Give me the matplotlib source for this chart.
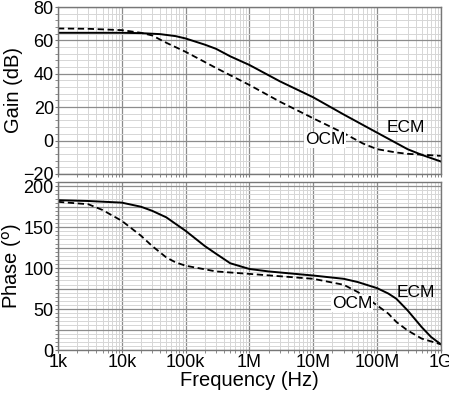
import matplotlib
matplotlib.use("Agg")
import matplotlib.pyplot as plt
from matplotlib.ticker import FixedLocator, MultipleLocator, LogLocator, NullFormatter

plt.rcParams['font.family'] = ['Liberation Sans', 'DejaVu Sans']

# frequency points (Hz)
f_gain_ecm = [1e3, 1e4, 2e4, 4e4, 7e4, 1e5, 2e5, 3e5, 5e5, 1e6, 3e6, 1e7, 3e7, 1e8, 3e8, 5e8, 1e9]
gain_ecm = [64.6, 64.6, 64.4, 63.8, 62.6, 61.2, 57.5, 55.0, 50.5, 45.3, 35.5, 25.9, 15.6, 4.7, -5.2, -8.6, -12.6]

f_gain_ocm = [1e3, 3e3, 1e4, 2e4, 3e4, 5e4, 1e5, 3e5, 1e6, 3e6, 1e7, 3e7, 6e7, 1e8, 2e8, 3e8, 1e9]
gain_ocm = [67.2, 67.0, 66.2, 64.6, 63.0, 58.6, 53.2, 43.5, 33.3, 23.3, 13.3, 4.4, -1.8, -5.2, -7.2, -8.0, -9.2]

f_ph_ecm = [1e3, 3e3, 1e4, 2e4, 3e4, 5e4, 7e4, 1e5, 2e5, 3e5, 5e5, 1e6, 2e6, 1e7, 3e7, 5e7,
            1e8, 1.5e8, 2e8, 3e8, 5e8, 7e8, 1e9]
ph_ecm = [183, 182, 180, 175, 170, 162, 154, 145.6, 127, 117.6, 106, 99, 96, 91, 87, 83,
          75.6, 69, 62.7, 48.5, 28, 16, 7]

f_ph_ocm = [1e3, 3e3, 5e3, 1e4, 2e4, 3e4, 5e4, 7e4, 1e5, 3e5, 1e6, 1e7, 3e7, 5e7,
            1e8, 1.5e8, 2e8, 3e8, 5e8, 1e9]
ph_ocm = [181, 178, 171, 157.8, 139.6, 127, 113, 107, 103, 96, 93, 87, 79.7, 70.8,
          54.6, 44.5, 34.4, 24, 14, 7]

freq_ticks = [1e3, 1e4, 1e5, 1e6, 1e7, 1e8, 1e9]
freq_labels = ['1k', '10k', '100k', '1M', '10M', '100M', '1G']

fig = plt.figure(figsize=(4.49, 3.96), dpi=100)
ax1 = fig.add_axes([0.129, 0.561, 0.853, 0.421])
ax2 = fig.add_axes([0.129, 0.116, 0.853, 0.424])


def style_axes(ax):
    ax.set_xscale('log')
    ax.set_xlim(1e3, 1e9)
    ax.xaxis.set_major_locator(FixedLocator(freq_ticks))
    ax.xaxis.set_minor_locator(LogLocator(base=10, subs=range(2, 10), numticks=20))
    ax.xaxis.set_minor_formatter(NullFormatter())
    ax.grid(which='major', color='#8c8c8c', lw=0.9)
    ax.grid(which='minor', color='#d6d6d6', lw=0.7)
    ax.set_axisbelow(True)
    for s in ax.spines.values():
        s.set_color('#777777')
        s.set_linewidth(1.0)
    ax.tick_params(which='both', length=2, color='#777777', labelsize=13, pad=1)


style_axes(ax1)
ax1.plot(f_gain_ecm, gain_ecm, color='black', lw=1.4)
ax1.plot(f_gain_ocm, gain_ocm, color='black', lw=1.3, ls=(0, (3.5, 2)))
ax1.set_ylim(-20, 80)
ax1.yaxis.set_major_locator(MultipleLocator(20))
ax1.yaxis.set_minor_locator(MultipleLocator(4))
ax1.set_xticklabels([])
ax1.set_ylabel('Gain (dB)', fontsize=14.5, labelpad=0)
ax1.text(1.4e8, 7.5, 'ECM', fontsize=12.5, va='center', ha='left')
ax1.text(7.4e6, 0.4, 'OCM', fontsize=12.5, va='center', ha='left',
         bbox=dict(facecolor='white', edgecolor='none', pad=0.5))

style_axes(ax2)
ax2.plot(f_ph_ecm, ph_ecm, color='black', lw=1.4)
ax2.plot(f_ph_ocm, ph_ocm, color='black', lw=1.3, ls=(0, (3.5, 2)))
ax2.set_ylim(0, 205)
ax2.yaxis.set_minor_locator(MultipleLocator(5))
ax2.set_yticks([0, 25, 50, 75, 100, 125, 150, 175, 200])
ax2.set_yticklabels(['0', '', '50', '', '100', '', '150', '', '200'])
ax2.set_xticklabels(freq_labels)
ax2.set_ylabel('Phase ($^{\\mathrm{o}}$)', fontsize=14.5, labelpad=0)
ax2.set_xlabel('Frequency (Hz)', fontsize=14.5, labelpad=0)
ax2.text(2.0e8, 70, 'ECM', fontsize=12.5, va='center', ha='left')
ax2.text(1.95e7, 57, 'OCM', fontsize=12.5, va='center', ha='left',
         bbox=dict(facecolor='white', edgecolor='none', pad=0.5))

fig.savefig('out.png', dpi=100)
